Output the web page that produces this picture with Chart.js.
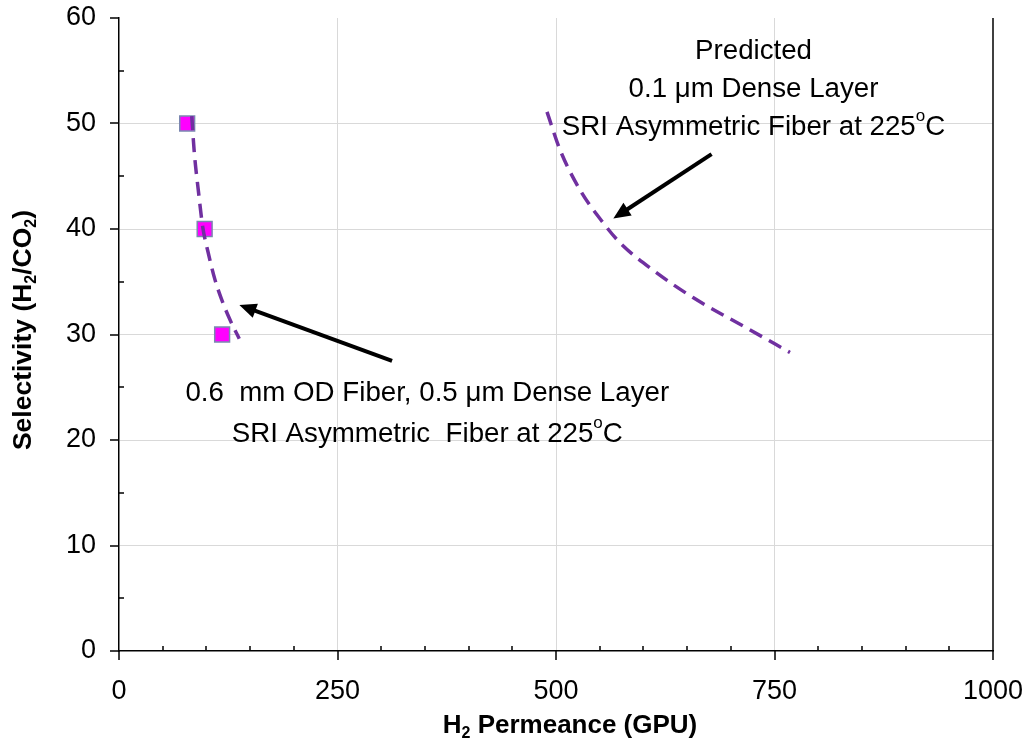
<!DOCTYPE html>
<html>
<head>
<meta charset="utf-8">
<script src="https://cdn.jsdelivr.net/npm/chart.js@4"></script>
<style>
html, body { margin: 0; padding: 0; background: #fff; }
</style>
</head>
<body>
<canvas id="chart" width="1029" height="746"></canvas>
<script>
// measured fiber points
const measuredPermeance = [78, 98, 118];
const measuredSelectivity = [50, 40, 30];
// trend through the measured fiber
const fitPermeance = [83.2, 86.2, 90.7, 95.8, 102.2, 109.8, 117.5, 127, 137.6];
const fitSelectivity = [50.7, 47.2, 43.7, 40.2, 37.7, 35.2, 33.3, 31.4, 29.6];
// predicted thin dense layer curve
const predictedPermeance = [489.7, 504.6, 527.5, 553.8, 573.2, 611, 656.8, 718.5, 767.7];
const predictedSelectivity = [51.1, 47.5, 43.7, 40.6, 38.7, 36.1, 33.5, 30.6, 28.3];

const xTicks = [0, 250, 500, 750, 1000];
const yTicks = [0, 10, 20, 30, 40, 50, 60];

const FONT = "'Liberation Sans', Arial, sans-serif";

const toPoints = (xs, ys) => xs.map((x, i) => ({ x: x, y: ys[i] }));

// text blocks and arrows, placed in axis units
const notes = [
  { x: 726, y: [56.1, 52.5, 48.9], lines: [
    [{ t: 'Predicted' }],
    [{ t: '0.1 μm Dense Layer' }],
    [{ t: 'SRI Asymmetric Fiber at 225' }, { t: 'o', sup: true }, { t: 'C' }]
  ] },
  { x: 352.7, y: [23.7, 19.8], lines: [
    [{ t: '0.6  mm OD Fiber, 0.5 μm Dense Layer' }],
    [{ t: 'SRI Asymmetric  Fiber at 225' }, { t: 'o', sup: true }, { t: 'C' }]
  ] }
];
const arrows = [
  { from: [312.4, 27.5], to: [137.7, 32.8] },
  { from: [678, 47.1], to: [565.6, 41.0] }
];
const xTitle = [{ t: 'H' }, { t: '2', sub: true }, { t: ' Permeance (GPU)' }];
const yTitle = [{ t: 'Selectivity (H' }, { t: '2', sub: true }, { t: '/CO' }, { t: '2', sub: true }, { t: ')' }];

// draws a row of text pieces centred on cx, with raised or lowered small pieces
function drawRich(ctx, segs, cx, baseline, size, weight) {
  const fontFor = s => (weight || '') + ' ' + ((s.sup || s.sub) ? Math.round(size * 0.6) : size) + 'px ' + FONT;
  let total = 0;
  segs.forEach(s => {
    ctx.font = fontFor(s);
    s.w = ctx.measureText(s.t).width;
    total += s.w;
  });
  let x = cx - total / 2;
  segs.forEach(s => {
    ctx.font = fontFor(s);
    let y = baseline;
    if (s.sup) y -= size * 0.52;
    if (s.sub) y += size * 0.2;
    ctx.fillText(s.t, x, y);
    x += s.w;
  });
}

const extras = {
  id: 'extras',
  beforeDatasetsDraw(chart) {
    const { ctx, chartArea, scales } = chart;
    ctx.save();
    ctx.strokeStyle = '#000';
    ctx.lineWidth = 1.5;
    const xr = Math.round(scales.x.getPixelForValue(1000));
    ctx.beginPath();
    ctx.moveTo(xr, chartArea.top);
    ctx.lineTo(xr, chartArea.bottom);
    ctx.stroke();
    ctx.restore();
  },
  afterDraw(chart) {
    const { ctx, chartArea, scales } = chart;
    const xs = scales.x, ys = scales.y;
    ctx.save();
    ctx.strokeStyle = '#000';
    ctx.lineWidth = 1.5;
    ctx.beginPath();
    for (let v = 0; v <= 1000; v += 50) {
      const px = Math.round(xs.getPixelForValue(v));
      if (v % 250 === 0) {
        ctx.moveTo(px, chartArea.bottom);
        ctx.lineTo(px, chartArea.bottom + 9);
      } else {
        ctx.moveTo(px, chartArea.bottom - 5);
        ctx.lineTo(px, chartArea.bottom);
      }
    }
    for (let v = 0; v <= 60; v += 5) {
      const py = Math.round(ys.getPixelForValue(v));
      if (v % 10 === 0) {
        ctx.moveTo(chartArea.left - 9, py);
        ctx.lineTo(chartArea.left, py);
      } else {
        ctx.moveTo(chartArea.left, py);
        ctx.lineTo(chartArea.left + 5, py);
      }
    }
    ctx.stroke();

    // arrows
    ctx.fillStyle = '#000';
    ctx.lineWidth = 4;
    arrows.forEach(a => {
      const x0 = xs.getPixelForValue(a.from[0]), y0 = ys.getPixelForValue(a.from[1]);
      const x1 = xs.getPixelForValue(a.to[0]), y1 = ys.getPixelForValue(a.to[1]);
      const ang = Math.atan2(y1 - y0, x1 - x0);
      const len = 17, half = 7.5;
      const bx = x1 - len * Math.cos(ang), by = y1 - len * Math.sin(ang);
      ctx.beginPath();
      ctx.moveTo(x0, y0);
      ctx.lineTo(bx + 2 * Math.cos(ang), by + 2 * Math.sin(ang));
      ctx.stroke();
      ctx.beginPath();
      ctx.moveTo(x1, y1);
      ctx.lineTo(bx + half * Math.sin(ang), by - half * Math.cos(ang));
      ctx.lineTo(bx - half * Math.sin(ang), by + half * Math.cos(ang));
      ctx.closePath();
      ctx.fill();
    });

    // annotation text
    ctx.textAlign = 'left';
    ctx.textBaseline = 'alphabetic';
    notes.forEach(n => {
      const cx = xs.getPixelForValue(n.x);
      n.lines.forEach((segs, i) => drawRich(ctx, segs, cx, ys.getPixelForValue(n.y[i]), 27.7));
    });

    // axis titles
    drawRich(ctx, xTitle, 570, 733, 26, 'bold');
    ctx.translate(31, 330);
    ctx.rotate(-Math.PI / 2);
    drawRich(ctx, yTitle, 0, 0, 26.5, 'bold');
    ctx.restore();
  }
};

new Chart(document.getElementById('chart'), {
  type: 'scatter',
  data: {
    datasets: [
      {
        label: 'Fiber trend',
        data: toPoints(fitPermeance, fitSelectivity),
        showLine: true,
        borderColor: '#7030a0',
        borderWidth: 3.5,
        borderDash: [14, 8],
        pointRadius: 0,
        cubicInterpolationMode: 'monotone',
        order: 0
      },
      {
        label: 'Predicted',
        data: toPoints(predictedPermeance, predictedSelectivity),
        showLine: true,
        borderColor: '#7030a0',
        borderWidth: 3.5,
        borderDash: [14, 8],
        pointRadius: 0,
        cubicInterpolationMode: 'monotone',
        order: 0
      },
      {
        label: 'Measured',
        data: toPoints(measuredPermeance, measuredSelectivity),
        pointStyle: 'rect',
        pointRadius: 10.5,
        backgroundColor: '#ff00ff',
        borderColor: '#7a86b0',
        borderWidth: 1.5,
        order: 1
      }
    ]
  },
  options: {
    responsive: false,
    animation: false,
    devicePixelRatio: 1,
    layout: { padding: { top: 18, right: 36, left: 0, bottom: 0 } },
    plugins: { legend: { display: false }, tooltip: { enabled: false } },
    scales: {
      x: {
        type: 'linear',
        min: 0,
        max: 1000,
        afterBuildTicks: s => { s.ticks = xTicks.map(v => ({ value: v })); },
        afterFit: s => { s.height = 95; s.paddingLeft = 0; s.paddingRight = 0; },
        grid: {
          drawTicks: false,
          lineWidth: 1,
          color: c => (c.tick && (c.tick.value === 0 || c.tick.value === 1000)) ? 'rgba(0,0,0,0)' : '#d9d9d9'
        },
        border: { color: '#000', width: 1.5 },
        ticks: {
          padding: 24, color: '#000', maxRotation: 0, autoSkip: false,
          font: { size: 27, family: FONT },
          callback: v => String(v)
        }
      },
      y: {
        type: 'linear',
        min: 0,
        max: 60,
        afterBuildTicks: s => { s.ticks = yTicks.map(v => ({ value: v })); },
        afterFit: s => { s.width = 119; s.paddingTop = 0; s.paddingBottom = 0; },
        grid: {
          drawTicks: false,
          lineWidth: 1,
          color: c => (c.tick && (c.tick.value === 0 || c.tick.value === 60)) ? 'rgba(0,0,0,0)' : '#d9d9d9'
        },
        border: { color: '#000', width: 1.5 },
        ticks: { padding: 23, color: '#000', font: { size: 27, family: FONT }, callback: v => String(v) }
      }
    }
  },
  plugins: [extras]
});
</script>
</body>
</html>
